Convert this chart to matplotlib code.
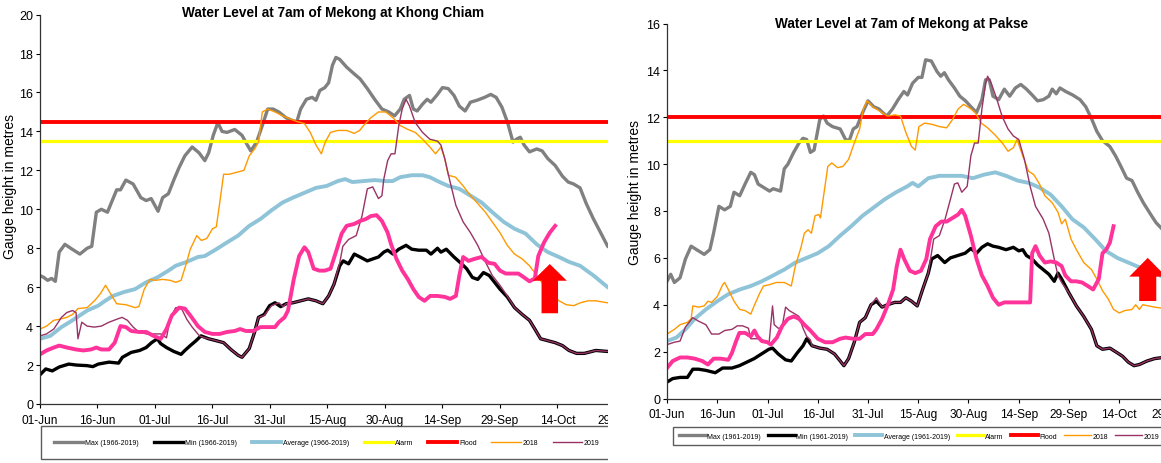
import matplotlib
matplotlib.use("Agg")
import matplotlib.pyplot as plt
from matplotlib.patches import Rectangle, FancyArrow

plt.rcParams['font.family'] = ['Liberation Sans', 'DejaVu Sans']

W, H = 1161, 464

# days since 01-Jun
DATE_TICKS = [0, 15, 30, 45, 60, 75, 90, 105, 120, 135, 150]
DATE_LABELS = ["01-Jun", "16-Jun", "01-Jul", "16-Jul", "31-Jul", "15-Aug",
               "30-Aug", "14-Sep", "29-Sep", "14-Oct", "29-Oct"]

# ---------------- Khong Chiam ----------------
KC_MAX_DAY = [0, 1, 2, 3, 4, 5, 6.5, 8, 10.4, 12.3, 13.5, 14.7, 16, 17.6, 20, 21, 22.4, 24.3,
              26.3, 27.7, 29, 30.8, 32, 33.5, 35, 36.3, 37.8, 39.7, 41.5, 43, 44, 45.2, 46.4,
              47.5, 48.8, 50.8, 52.7, 54.1, 55, 56.5, 58, 59.4, 60.8, 62.3, 64.2, 66, 67, 68,
              69.5, 71, 72, 73, 74.3, 75.3, 76.3, 77.2, 78.2, 80, 82, 83.5, 85.4, 87.3, 89.2,
              91, 92.5, 94, 95, 96.4, 97.4, 98.4, 99.8, 101, 102, 103.7, 105, 106.5, 108,
              109.4, 110.9, 112.3, 114, 116, 117.6, 119, 120.5, 122, 123.4, 124.3, 125.3,
              126.3, 127.7, 129.6, 131, 132.5, 134.4, 136.3, 137.8, 139.2, 140.9, 142.5,
              144.4, 146, 148.1, 152]
KC_MAX = [6.6, 6.5, 6.35, 6.45, 6.3, 7.8, 8.2, 8.0, 7.7, 8.0, 8.1, 9.85, 10.0, 9.85, 11.0, 11.0,
          11.5, 11.3, 10.6, 10.45, 10.55, 9.9, 10.6, 10.8, 11.55, 12.15, 12.75, 13.2, 12.9,
          12.5, 12.9, 13.8, 14.45, 14.0, 13.95, 14.1, 13.8, 13.3, 13.0, 13.45, 14.3, 15.15,
          15.15, 15.0, 14.7, 14.55, 14.5, 15.15, 15.65, 15.75, 15.6, 16.1, 16.25, 16.5, 17.4,
          17.8, 17.7, 17.3, 16.95, 16.7, 16.2, 15.65, 15.15, 15.0, 14.8, 15.15, 15.65, 15.85,
          15.15, 15.05, 15.4, 15.65, 15.5, 15.9, 16.25, 16.2, 15.85, 15.3, 15.05, 15.5, 15.6,
          15.75, 15.9, 15.75, 15.25, 14.45, 13.45, 13.6, 13.7, 13.3, 12.95, 13.1, 13.0, 12.6,
          12.25, 11.7, 11.4, 11.3, 11.1, 10.3, 9.5, 8.9, 8.1, 7.6]

KC_MIN_DAY = [0, 1.5, 3.2, 5, 7.5, 9.5, 12.3, 13.8, 15.2, 18, 20.5, 21.5, 23.8, 26, 27.7, 29.1,
              30.6, 31.5, 33, 34.9, 36.8, 37.8, 39.2, 40.7, 42, 44, 46, 47.9, 49.8, 51.7, 52.7,
              54.6, 56, 57, 58.5, 59.9, 61.3, 62.8, 64.2, 66, 68, 70, 72, 73.8, 75.3, 76.7,
              78.2, 79.1, 80.5, 82, 83.5, 85.4, 86.8, 88.3, 89.7, 90.7, 92.1, 93.6, 95.5, 97,
              98.8, 100.8, 102, 103.7, 104.6, 106, 108, 110, 111.3, 112.8, 114.2, 115.7, 117.2,
              118.6, 120, 121.9, 123.8, 125.8, 127.7, 129.1, 130.6, 132.5, 134.4, 136.3, 138,
              140, 142, 145, 148, 152]
KC_MIN = [1.5, 1.8, 1.7, 1.9, 2.05, 2.0, 1.97, 1.92, 2.05, 2.15, 2.1, 2.4, 2.65, 2.75, 2.9, 3.15,
          3.35, 3.1, 2.9, 2.7, 2.55, 2.75, 3.0, 3.25, 3.5, 3.35, 3.25, 3.15, 2.8, 2.5, 2.4,
          2.85, 3.7, 4.45, 4.6, 5.05, 5.2, 5.0, 5.15, 5.2, 5.3, 5.4, 5.3, 5.15, 5.55, 6.15, 7.1,
          7.35, 7.2, 7.7, 7.55, 7.35, 7.45, 7.55, 7.8, 7.9, 7.7, 7.95, 8.15, 7.95, 7.9, 7.9,
          7.7, 8.0, 7.8, 7.95, 7.55, 7.2, 6.95, 6.5, 6.4, 6.75, 6.6, 6.25, 5.9, 5.5, 4.95, 4.6,
          4.3, 3.85, 3.35, 3.25, 3.15, 3.0, 2.75, 2.6, 2.6, 2.75, 2.7, 2.7]

KC_AVG_DAY = [0, 2.7, 5.6, 8.5, 12.3, 15.2, 17, 19, 21.9, 24.8, 27.7, 30.6, 33.5, 35.4, 38.3,
              41.2, 43, 46, 48.8, 51.7, 54.6, 57.5, 60.4, 63.3, 66, 69, 72, 74.8, 77.7, 79.6,
              81.5, 84.4, 87.3, 90.2, 92, 94, 97, 99.8, 101.7, 103.7, 106.5, 109.4, 112.3,
              115.2, 118, 121, 123.8, 126.7, 129.6, 132.5, 135.4, 138, 140.9, 144.4, 148.1, 152]
KC_AVG = [3.35, 3.5, 3.95, 4.3, 4.8, 5.05, 5.3, 5.55, 5.75, 5.9, 6.25, 6.5, 6.85, 7.1, 7.3, 7.55,
          7.6, 7.95, 8.3, 8.65, 9.15, 9.5, 9.95, 10.35, 10.6, 10.85, 11.1, 11.2, 11.45, 11.55,
          11.4, 11.45, 11.5, 11.45, 11.45, 11.65, 11.75, 11.75, 11.65, 11.45, 11.2, 11.05,
          10.7, 10.35, 9.85, 9.35, 9.0, 8.75, 8.2, 7.8, 7.55, 7.3, 7.1, 6.6, 6.0, 5.6]

KC_2018_DAY = [0, 1.7, 3.6, 5, 7, 8.5, 9.9, 12.3, 14.2, 15.7, 17.1, 18, 20, 22.4, 24.8, 25.8,
               27.2, 28.7, 30, 32, 34, 35.4, 36.8, 38.3, 39.2, 40.9, 42.1, 43.5, 45, 46, 46.9,
               47.9, 49.4, 51.3, 53.2, 54.6, 56, 57, 58, 59.4, 61.3, 63.3, 65.2, 67.1, 69, 70.5,
               72, 73.4, 74.4, 75.8, 77.7, 80, 82, 83.4, 84.4, 86.3, 88.3, 90.2, 92.1, 94, 96,
               97.9, 99.8, 101.7, 103.2, 104.6, 105.6, 106.5, 108.4, 110.4, 112.3, 114.2,
               116.2, 118, 120, 121.9, 123.8, 125.8, 127.7, 129.6, 131.5, 133.5, 135.4, 137.3,
               139.2, 141, 143, 145, 148, 152]
KC_2018 = [3.85, 4.0, 4.3, 4.35, 4.45, 4.6, 4.9, 4.95, 5.3, 5.65, 6.1, 5.8, 5.15, 5.1, 4.95, 5.0,
           5.9, 6.4, 6.35, 6.4, 6.35, 6.25, 6.35, 7.3, 7.95, 8.65, 8.4, 8.5, 9.0, 9.1, 10.35,
           11.8, 11.8, 11.9, 12.0, 12.75, 13.1, 13.45, 15.0, 15.15, 15.0, 14.8, 14.65, 14.5,
           14.4, 13.95, 13.3, 12.85, 13.45, 13.95, 14.05, 14.05, 13.9, 14.05, 14.3, 14.7, 15.0,
           15.0, 14.7, 14.3, 14.1, 13.95, 13.6, 13.2, 12.85, 13.2, 12.6, 11.75, 11.65, 11.2,
           10.7, 10.3, 9.85, 9.35, 8.8, 8.15, 7.7, 7.45, 7.1, 6.6, 6.1, 5.6, 5.3, 5.1, 5.05, 5.2,
           5.3, 5.3, 5.2, 5.2]

KC_2019_DAY = [0, 1.7, 3.6, 5.6, 7, 8.5, 9.4, 9.9, 10.9, 12.3, 14.2, 16, 18, 20, 21.4, 22.8,
               24.3, 25.8, 27.7, 29.6, 31.5, 33, 33.9, 35.4, 36.8, 38.3, 39.7, 41.6, 43, 44, 46,
               47.9, 49.8, 51.7, 52.7, 54.6, 56, 57, 58.5, 60.4, 62.3, 63.5, 64.2, 66, 68, 70,
               72, 73.8, 75.3, 76.7, 78.2, 79, 80.5, 82.5, 84, 85.4, 86.8, 88.3, 89.2, 89.7,
               90.7, 91.6, 92.6, 93.6, 94.5, 95.5, 96.4, 97.9, 99.8, 101.7, 103.7, 104.6, 105.6,
               107, 108.5, 110.4, 112.3, 114.2, 116.2, 118, 120, 121.9, 123.8, 125.8, 127.7,
               129.1, 130.6, 132.5, 134.4, 136.3, 138, 140, 142, 145, 148, 152]
KC_2019 = [3.5, 3.6, 3.85, 4.45, 4.7, 4.8, 4.7, 3.35, 4.2, 4.0, 3.95, 4.0, 4.2, 4.35, 4.45, 4.3,
           3.95, 3.7, 3.6, 3.6, 3.6, 3.4, 4.35, 4.95, 4.95, 4.35, 3.95, 3.5, 3.4, 3.35, 3.25,
           3.15, 2.8, 2.5, 2.4, 2.85, 3.7, 4.45, 4.55, 5.05, 5.2, 5.0, 5.15, 5.2, 5.3, 5.4, 5.3,
           5.15, 5.55, 6.15, 7.25, 8.1, 8.45, 8.65, 9.65, 11.05, 11.15, 10.55, 10.7, 11.55, 12.5,
           12.85, 12.85, 14.3, 15.15, 15.65, 15.3, 14.45, 13.95, 13.6, 13.5, 13.3, 12.6, 11.4,
           10.2, 9.35, 8.8, 8.15, 7.3, 6.6, 6.1, 5.55, 4.95, 4.6, 4.3, 3.85, 3.35, 3.25, 3.15,
           3.0, 2.75, 2.6, 2.6, 2.75, 2.7, 2.7]

KC_2020_DAY = [0, 1.7, 3.6, 5, 7, 9.4, 11.3, 13.3, 14.7, 16, 18, 19.5, 21, 22.4, 23.8, 25.8,
               27.7, 29.6, 31.5, 33, 34.4, 36.3, 37.8, 39.2, 41.2, 43, 45, 46.9, 48.8, 50.8,
               52.2, 53.7, 55.6, 57.5, 59.4, 61.3, 62.3, 63.8, 64.7, 66.2, 67.6, 69, 70, 71.4,
               72.9, 74.3, 75.8, 77.2, 78.7, 80, 82, 83.5, 85, 86.3, 87.8, 89.2, 90.7, 91.6, 93,
               94.5, 96, 97.4, 98.8, 100.3, 101.8, 103.7, 105.6, 107, 108.5, 109.4, 110.4,
               111.8, 113.3, 115.2, 117, 118.6, 120, 121.5, 122.9, 124.8, 126.3, 127.7, 129.1,
               130, 131.5, 133, 134.4]
KC_2020 = [2.55, 2.75, 2.9, 3.0, 2.9, 2.8, 2.75, 2.8, 2.9, 2.8, 2.8, 3.15, 4.0, 3.95, 3.75, 3.7,
           3.7, 3.5, 3.35, 3.85, 4.55, 4.95, 4.9, 4.55, 4.0, 3.7, 3.6, 3.6, 3.7, 3.75, 3.85, 3.75,
           3.75, 3.95, 3.95, 3.95, 4.2, 4.45, 4.8, 6.4, 7.6, 8.05, 7.8, 6.95, 6.85, 6.85, 6.95,
           7.8, 8.75, 9.15, 9.25, 9.4, 9.5, 9.65, 9.7, 9.4, 8.8, 8.2, 7.45, 6.85, 6.4, 5.9, 5.5,
           5.3, 5.55, 5.55, 5.5, 5.4, 5.55, 6.6, 7.55, 7.35, 7.45, 7.55, 7.25, 7.2, 6.85, 6.7,
           6.7, 6.7, 6.5, 6.3, 6.45, 7.6, 8.3, 8.8, 9.15]

KC_ALARM = 13.5
KC_FLOOD = 14.5

# ---------------- Pakse ----------------
PK_MAX_DAY = [0, 1.1, 2.2, 3.9, 5.5, 7.2, 9.4, 11.1, 12.8, 13.9, 15.5, 17.2, 18.9, 20, 21.7,
              23.3, 25, 26.1, 27.2, 28.9, 30.6, 31.7, 33.9, 35, 36.1, 37.8, 39.4, 40.6, 41.7,
              42.8, 43.9, 45.6, 46.7, 47.8, 49.4, 51.7, 53.3, 54.4, 55.6, 56.7, 58.4, 60, 61.7,
              63.3, 64.4, 65.6, 67.3, 69, 70.7, 71.8, 73.3, 75, 76.1, 77.2, 78.9, 80.6, 81.7,
              82.8, 84, 85.8, 87.4, 89.1, 90.7, 92.4, 94, 95.1, 96.2, 97.3, 99, 100.7, 102.3,
              104, 105.6, 107.3, 109, 110.6, 112.3, 114, 115, 116.2, 117.3, 119, 121.1, 123.3,
              125, 126.7, 128.3, 130, 132.2, 133.9, 135.5, 137.2, 138.8, 140.5, 142.2, 144.4,
              146, 148, 152]
PK_MAX = [5.0, 5.3, 4.95, 5.15, 5.95, 6.5, 6.3, 6.15, 6.35, 7.05, 8.2, 8.05, 8.2, 8.8, 8.65, 9.15,
          9.65, 9.55, 9.15, 9.0, 8.85, 8.95, 8.85, 9.8, 10.0, 10.5, 10.9, 11.1, 11.05, 10.5,
          10.6, 11.9, 12.05, 11.75, 11.6, 11.5, 11.05, 11.0, 11.5, 11.6, 12.2, 12.7, 12.45,
          12.35, 12.2, 12.05, 12.35, 12.75, 13.1, 12.95, 13.45, 13.7, 13.7, 14.45, 14.4, 13.95,
          13.75, 13.9, 13.6, 13.25, 12.9, 12.7, 12.45, 12.2, 12.75, 13.6, 13.6, 12.9, 12.75,
          13.2, 12.9, 13.25, 13.4, 13.2, 12.95, 12.7, 12.75, 12.9, 13.2, 13.0, 13.25, 13.1,
          12.95, 12.75, 12.45, 11.95, 11.4, 11.0, 10.75, 10.35, 9.9, 9.4, 9.3, 8.8, 8.35, 7.85,
          7.5, 7.2, 6.7]

PK_MIN_DAY = [0, 1.7, 3.9, 6.1, 7.7, 9.4, 11.6, 14.4, 16.6, 19.4, 21.6, 23.8, 26, 28.2, 30.4,
              31.5, 33.2, 35.4, 37.1, 38.9, 40.6, 41.7, 43.3, 45.6, 47.8, 50, 51.7, 52.8, 54.2,
              55.9, 57.5, 59.2, 60.9, 62.5, 64.2, 65.8, 68, 69.7, 71.3, 73, 74.7, 76.3, 78, 79,
              80.8, 82.9, 84.6, 86.8, 89, 90.7, 92.4, 94, 95.7, 97.3, 99, 101.2, 103.4, 105,
              106.2, 107.3, 109, 110.6, 112.3, 114, 115.6, 116.7, 117.8, 120, 122.2, 124.4,
              126.7, 128.3, 130, 132.2, 134.4, 136, 137.7, 139.4, 141, 143.3, 145.5, 148, 152]
PK_MIN = [0.7, 0.85, 0.9, 0.9, 1.25, 1.25, 1.2, 1.1, 1.3, 1.3, 1.4, 1.55, 1.7, 1.9, 2.1, 2.15,
          1.9, 1.65, 1.6, 1.95, 2.25, 2.55, 2.25, 2.15, 2.1, 1.9, 1.6, 1.4, 1.7, 2.4, 3.25, 3.45,
          4.0, 4.15, 3.9, 4.0, 4.1, 4.1, 4.3, 4.15, 3.95, 4.65, 5.35, 5.95, 6.1, 5.8, 6.0, 6.1,
          6.2, 6.4, 6.2, 6.45, 6.6, 6.5, 6.45, 6.35, 6.45, 6.3, 6.35, 6.1, 5.95, 5.7, 5.5, 5.3,
          5.0, 5.35, 5.1, 4.5, 3.95, 3.5, 2.95, 2.25, 2.1, 2.15, 1.95, 1.8, 1.55, 1.4, 1.45,
          1.6, 1.7, 1.75, 1.8]

PK_AVG_DAY = [0, 2.8, 5.5, 8.3, 11.6, 15, 18.3, 21.7, 25, 28.3, 31.7, 35, 38.3, 41.7, 45, 48.3,
              51.7, 55, 58.4, 61.7, 65, 68.4, 71.7, 73.3, 75, 78, 81.3, 84.6, 88, 91.3, 94.6, 98,
              101.2, 104.6, 108, 111.2, 114.5, 117.8, 121, 124.4, 127.8, 131, 134.4, 137.7, 141,
              144.5, 148, 152]
PK_AVG = [2.45, 2.6, 2.95, 3.4, 3.8, 4.15, 4.45, 4.65, 4.8, 5.0, 5.25, 5.5, 5.8, 6.0, 6.2, 6.5,
          6.95, 7.35, 7.8, 8.15, 8.5, 8.8, 9.05, 9.2, 9.05, 9.4, 9.5, 9.5, 9.5, 9.4, 9.55, 9.65,
          9.5, 9.3, 9.2, 9.0, 8.7, 8.2, 7.65, 7.3, 6.8, 6.3, 6.0, 5.8, 5.6, 5.4, 5.2, 5.0]

PK_2018_DAY = [0, 2.2, 3.9, 6.1, 7.2, 7.7, 9.4, 11.1, 12.2, 13.3, 15, 16.6, 17.2, 18.3, 20, 21.7,
               23.3, 25, 26, 27.7, 28.8, 30.4, 32.6, 35, 37.1, 38.3, 40, 41, 42.1, 43.1, 44.2,
               45.3, 45.8, 47, 48, 49.2, 50.9, 52.5, 54.2, 55.9, 57.5, 58.6, 59.7, 61.4, 63.6,
               65.8, 68, 69.7, 71.3, 73, 74.1, 75.2, 76.9, 79.1, 81.3, 83.5, 85.2, 86.9, 88.5,
               90.3, 92, 93.8, 95.7, 97.9, 100.1, 101.8, 103.4, 104.5, 106.2, 107.9, 109.5,
               111.2, 112.8, 115, 116.7, 117.8, 118.9, 120.6, 122.2, 124.4, 126.7, 128.3, 130,
               131.7, 133.3, 135, 136.6, 138.8, 139.9, 141, 142, 143.8, 145.5, 148, 152]
PK_2018 = [2.75, 2.95, 3.15, 3.25, 3.4, 3.95, 3.9, 3.95, 4.15, 4.1, 4.35, 4.85, 4.95, 4.65, 4.15,
           3.8, 3.75, 3.6, 3.95, 4.5, 4.8, 4.85, 4.95, 4.95, 4.8, 5.65, 6.45, 7.05, 7.2, 7.05,
           7.8, 7.85, 7.7, 8.9, 9.9, 10.05, 9.85, 9.9, 10.2, 10.9, 11.5, 12.35, 12.7, 12.45,
           12.25, 12.05, 12.1, 12.05, 11.35, 10.75, 10.6, 11.6, 11.75, 11.7, 11.6, 11.55, 11.9,
           12.35, 12.55, 12.4, 12.2, 11.75, 11.55, 11.25, 10.9, 10.55, 10.7, 11.05, 10.35, 9.7,
           9.55, 9.15, 8.65, 8.35, 7.95, 7.45, 7.65, 6.8, 6.35, 5.8, 5.5, 5.1, 4.6, 4.25, 3.8,
           3.65, 3.75, 3.8, 4.0, 3.8, 4.0, 3.95, 3.9, 3.85, 3.85]

PK_2019_DAY = [0, 2.2, 3.9, 5.5, 7.7, 9.4, 11.6, 13.3, 15.5, 17.2, 19.4, 21, 22.6, 24.3, 25,
               27.2, 29.4, 30.5, 31.5, 32, 33.2, 34.3, 35.4, 36.5, 38.3, 39.4, 40.6, 41.7, 42.8,
               43.3, 45.6, 47.8, 50, 51.7, 52.8, 54.2, 55.9, 57.5, 59.2, 60.9, 62.5, 64.2, 65.8,
               68, 69.7, 71.3, 73, 74.7, 76.3, 78, 79.6, 81.3, 83, 84.6, 85.8, 86.8, 88, 89.6,
               90.7, 91.8, 92.9, 94, 95.1, 95.7, 96.8, 98.5, 100, 101.8, 103.4, 105, 106.7,
               108.4, 110, 112.3, 114, 115.6, 116.7, 117.8, 120, 122.2, 124.4, 126.7, 128.3,
               130, 132.2, 134.4, 136, 137.7, 139.4, 141, 143.3, 145.5, 148, 152]
PK_2019 = [2.3, 2.4, 2.45, 3.05, 3.45, 3.3, 3.15, 2.75, 2.75, 2.9, 2.95, 3.1, 3.1, 3.0, 2.55,
           2.55, 2.45, 2.4, 3.95, 3.15, 3.0, 3.0, 3.9, 3.75, 3.6, 3.5, 3.0, 2.65, 2.5, 2.25,
           2.15, 2.1, 1.9, 1.6, 1.4, 1.7, 2.4, 3.25, 3.45, 4.0, 4.3, 3.9, 4.0, 4.1, 4.1, 4.3,
           4.15, 3.95, 4.65, 5.35, 6.8, 6.95, 7.65, 8.5, 9.15, 9.2, 8.8, 9.05, 10.35, 10.9, 10.9,
           12.35, 13.45, 13.75, 13.45, 12.75, 12.05, 11.5, 11.2, 11.05, 10.2, 9.05, 8.2, 7.65,
           7.05, 5.95, 5.25, 4.95, 4.5, 3.95, 3.5, 2.95, 2.25, 2.1, 2.15, 1.95, 1.8, 1.55, 1.4,
           1.45, 1.6, 1.7, 1.75, 1.8]

PK_2020_DAY = [0, 1.7, 3.9, 6.1, 8.3, 10.5, 12.2, 13.9, 16, 18.3, 19.4, 20.5, 21.6, 23.3, 25,
               26.1, 27, 28.3, 30, 31, 32.8, 34.4, 36.1, 37.8, 39.4, 41, 42.8, 45, 47.2, 49.4,
               51.7, 53.3, 55.5, 57.5, 59.2, 61.4, 62.5, 64.2, 65.8, 67.5, 68.6, 69.7, 70.8,
               72.5, 74.1, 75.8, 77.4, 78.5, 80.2, 81.9, 83.5, 85.2, 86.9, 88, 89, 90.7, 92.4,
               94, 95.7, 97.3, 99, 100.7, 102.9, 105, 106.7, 108.4, 109, 110, 111.2, 112.8,
               114.5, 116.2, 117.8, 118.9, 120.6, 122.2, 123.9, 125.6, 127.2, 128.9, 130, 131.1,
               132.2, 133.3]
PK_2020 = [1.3, 1.6, 1.75, 1.75, 1.7, 1.6, 1.45, 1.7, 1.7, 1.65, 1.95, 2.4, 2.8, 2.8, 2.65, 2.9,
           2.65, 2.45, 2.4, 2.3, 2.6, 3.1, 3.4, 3.5, 3.4, 3.15, 2.9, 2.55, 2.4, 2.4, 2.55, 2.6,
           2.55, 2.55, 2.75, 2.75, 2.95, 3.4, 3.95, 4.65, 5.65, 6.35, 5.95, 5.45, 5.35, 5.45,
           5.95, 6.8, 7.35, 7.55, 7.55, 7.7, 7.85, 8.05, 7.8, 6.95, 5.95, 5.25, 4.8, 4.3, 4.0,
           4.1, 4.1, 4.1, 4.1, 4.1, 6.2, 6.5, 6.1, 5.8, 5.85, 5.8, 5.65, 5.25, 5.0, 5.0, 4.95,
           4.8, 4.65, 5.1, 6.2, 6.35, 6.65, 7.35]

PK_ALARM = 11.0
PK_FLOOD = 12.0

COL_MAX = "#808080"
COL_MIN = "#000000"
COL_AVG = "#8FC3D8"
COL_ALARM = "#FFFF00"
COL_FLOOD = "#FF0000"
COL_2018 = "#FF9900"
COL_2019 = "#993366"
COL_2020 = "#FF3399"


def add_px_axes(fig, left, ybase, width, height):
    # pixel geometry (from top-left) -> figure fraction
    return fig.add_axes([left / W, (H - ybase) / H, width / W, height / H])


def draw_panel(ax, d, ymax, alarm, flood, period, arrow, leg_anchor, leg_kw):
    h_max, = ax.plot(d["max"][0], d["max"][1], color=COL_MAX, lw=2.4)
    h_min, = ax.plot(d["min"][0], d["min"][1], color=COL_MIN, lw=2.4)
    h_avg, = ax.plot(d["avg"][0], d["avg"][1], color=COL_AVG, lw=2.8)
    h_al = ax.axhline(alarm, color=COL_ALARM, lw=2.3)
    h_fl = ax.axhline(flood, color=COL_FLOOD, lw=2.8)
    h_18, = ax.plot(d["2018"][0], d["2018"][1], color=COL_2018, lw=1.0)
    h_19, = ax.plot(d["2019"][0], d["2019"][1], color=COL_2019, lw=1.0)
    ax.plot(d["2020"][0], d["2020"][1], color=COL_2020, lw=2.8)

    x, y0, y1, w, hw, hl = arrow
    ax.add_patch(FancyArrow(x, y0, 0, y1 - y0, width=w, head_width=hw, head_length=hl,
                            length_includes_head=True, color="#FF0000", lw=0, zorder=10))

    ax.set_xlim(0, 152)
    ax.set_ylim(0, ymax)
    ax.set_yticks(range(0, ymax + 1, 2))
    ax.set_xticks(DATE_TICKS)
    ax.set_xticklabels(DATE_LABELS, fontsize=8.6)
    ax.tick_params(axis="y", labelsize=9, length=3, width=0.8, direction="out", pad=2)
    ax.tick_params(axis="x", length=3, width=0.8, direction="out", pad=4)
    for s in ("top", "right"):
        ax.spines[s].set_visible(False)
    for s in ("left", "bottom"):
        ax.spines[s].set_color("#333333")
        ax.spines[s].set_linewidth(0.9)

    labels = ["Max (%s)" % period, "Min (%s)" % period, "Average (%s)" % period,
              "Alarm", "Flood", "2018", "2019"]
    leg = ax.legend([h_max, h_min, h_avg, h_al, h_fl, h_18, h_19], labels,
                    loc="upper left", bbox_to_anchor=leg_anchor,
                    bbox_transform=ax.figure.transFigure, ncol=7, fontsize=5,
                    frameon=True, fancybox=False, borderaxespad=0, **leg_kw)
    leg.get_frame().set_edgecolor("#333333")
    leg.get_frame().set_linewidth(1.0)


fig = plt.figure(figsize=(W / 100, H / 100), dpi=100)
fig.patch.set_facecolor("white")

# ---- Khong Chiam (left, cropped on the right) ----
ax1 = add_px_axes(fig, 40, 405, 152 * 3.833, 389.4)
ax1.set_zorder(0)
kc = {"max": (KC_MAX_DAY, KC_MAX), "min": (KC_MIN_DAY, KC_MIN), "avg": (KC_AVG_DAY, KC_AVG),
      "2018": (KC_2018_DAY, KC_2018), "2019": (KC_2019_DAY, KC_2019),
      "2020": (KC_2020_DAY, KC_2020)}
draw_panel(ax1, kc, 20, KC_ALARM, KC_FLOOD, "1966-2019",
           (133.0, 4.66, 7.19, 4.3, 8.9, 0.86),
           (41 / W, 1 - 427 / H),
           dict(borderpad=1.9, handlelength=4.2, handletextpad=0.3, columnspacing=2.1))
fig.text(333 / W, 1 - 13 / H, "Water Level at 7am of Mekong at Khong Chiam",
         ha="center", va="center", fontsize=9.8, fontweight="bold")
fig.text(10 / W, 1 - 187 / H, "Gauge height in metres", rotation=90,
         ha="center", va="center", fontsize=10)

# white strip hiding the cropped-off part of the left chart
fig.add_artist(Rectangle((608 / W, 0), 50 / W, 1, transform=fig.transFigure,
                         facecolor="white", edgecolor="none", zorder=1))

# ---- Pakse (right, cropped on the right) ----
ax2 = add_px_axes(fig, 667, 399.5, 152 * 3.35, 375)
ax2.set_zorder(2)
pk = {"max": (PK_MAX_DAY, PK_MAX), "min": (PK_MIN_DAY, PK_MIN), "avg": (PK_AVG_DAY, PK_AVG),
      "2018": (PK_2018_DAY, PK_2018), "2019": (PK_2019_DAY, PK_2019),
      "2020": (PK_2020_DAY, PK_2020)}
draw_panel(ax2, pk, 16, PK_ALARM, PK_FLOOD, "1961-2019",
           (143.5, 4.16, 6.0, 5.1, 11.0, 0.8),
           (673 / W, 1 - 428 / H),
           dict(borderpad=0.8, handlelength=3.9, handletextpad=0.2, columnspacing=1.0))
fig.text(902 / W, 1 - 24 / H, "Water Level at 7am of Mekong at Pakse",
         ha="center", va="center", fontsize=9.8, fontweight="bold")
fig.text(635 / W, 1 - 193 / H, "Gauge height in metres", rotation=90,
         ha="center", va="center", fontsize=10)

fig.savefig("out.png", dpi=100)
